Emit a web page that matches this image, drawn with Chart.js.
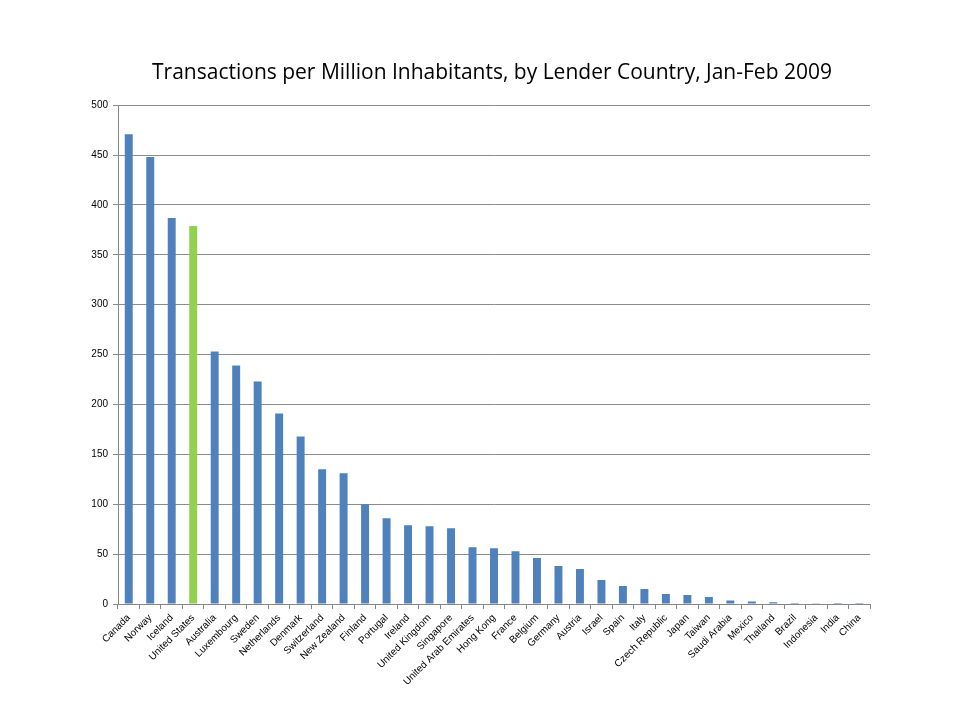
<!DOCTYPE html>
<html>
<head>
<meta charset="utf-8">
<script src="https://cdn.jsdelivr.net/npm/chart.js@4.4.1/dist/chart.umd.min.js"></script>
<style>
html,body{margin:0;padding:0;background:#fff;}
#wrap{width:960px;height:720px;}
</style>
</head>
<body>
<div id="wrap"><canvas id="c" width="960" height="720"></canvas></div>
<script>
const countries = ["Canada","Norway","Iceland","United States","Australia","Luxembourg","Sweden","Netherlands","Denmark","Switzerland","New Zealand","Finland","Portugal","Ireland","United Kingdom","Singapore","United Arab Emirates","Hong Kong","France","Belgium","Germany","Austria","Israel","Spain","Italy","Czech Republic","Japan","Taiwan","Saudi Arabia","Mexico","Thailand","Brazil","Indonesia","India","China"];
const transactions = [471,448,387,379,253,239,223,191,168,135,131,100,86,79,78,76,57,56,53,46,38,35,24,18,15,10,9,7,3.5,2.5,1.7,1,0.3,0.1,0.05];
const highlighted = ["United States"];
const yTicks = [0,50,100,150,200,250,300,350,400,450,500];
const titleText = "Transactions per Million Inhabitants, by Lender Country, Jan-Feb 2009";

const blue = "#4F81BD", green = "#92D050";
const barColors = countries.map(c => highlighted.includes(c) ? green : blue);

new Chart(document.getElementById("c"), {
  type: "bar",
  data: {
    labels: countries,
    datasets: [{
      data: transactions,
      backgroundColor: barColors,
      borderWidth: 0,
      categoryPercentage: 1,
      barPercentage: 0.37,
      yAxisID: "y"
    }]
  },
  options: {
    responsive: false,
    animation: false,
    devicePixelRatio: 1,
    layout: { padding: { left: 24, right: 0, top: 0, bottom: 0 } },
    plugins: {
      legend: { display: false },
      tooltip: { enabled: false },
      title: {
        display: true,
        text: titleText,
        color: "#000",
        font: { family: "Open Sans", size: 21, weight: "normal", lineHeight: 1.2 },
        padding: { top: 60, bottom: 20 }
      }
    },
    scales: {
      x: {
        grid: { display: true, drawOnChartArea: false, drawTicks: true, tickLength: 5, color: "#868686", offset: true },
        border: { display: true, color: "#868686", width: 1 },
        ticks: {
          color: "#000",
          font: { family: "Liberation Sans", size: 10 },
          minRotation: 45, maxRotation: 45, autoSkip: false, padding: 3
        },
        afterFit: s => { s.height = 116; }
      },
      y: {
        position: "left",
        min: 0, max: 500,
        afterBuildTicks: s => { s.ticks = yTicks.map(v => ({ value: v })); },
        grid: { color: "#8c8c8c", lineWidth: 1, drawTicks: true, tickLength: 5 },
        border: { display: true, color: "#868686", width: 1 },
        ticks: { color: "#000", font: { family: "Liberation Sans", size: 10 }, padding: 5 },
        afterFit: s => { s.width = 94; }
      },
      y2: {
        position: "right",
        min: 0, max: 500,
        grid: { display: false, drawOnChartArea: false },
        border: { display: false },
        ticks: { display: false },
        afterFit: s => { s.width = 90; }
      }
    }
  }
});
</script>
</body>
</html>
